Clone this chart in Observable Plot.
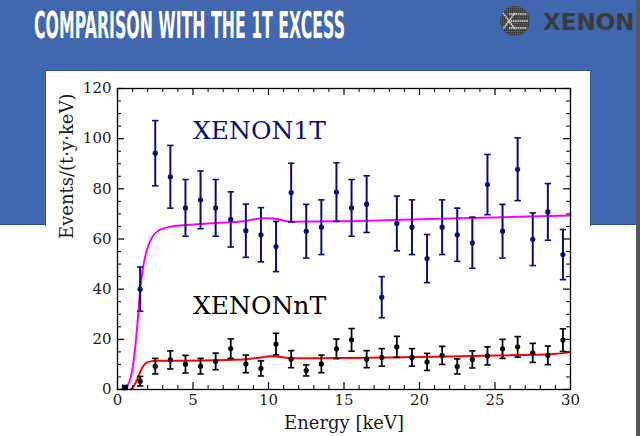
<!DOCTYPE html>
<html>
<head>
<meta charset="utf-8">
<script src="https://cdn.jsdelivr.net/npm/d3@7"></script>
<script src="https://cdn.jsdelivr.net/npm/@observablehq/plot@0.6"></script>
<style>
  html, body { margin: 0; padding: 0; }
  body { width: 640px; height: 436px; position: relative; overflow: hidden; background: #fff; }
  #band { position: absolute; left: 0; top: 0; width: 636px; height: 224px; background: #4167ae; border-bottom: 1px solid #2d5097; }
  #strip { position: absolute; left: 636px; top: 0; width: 4px; height: 436px; background: #575757; }
  #panel { position: absolute; left: 45px; top: 70px; width: 544px; height: 155px; background: #fff; border: 1px solid #2d5097; border-bottom: none; }
  #head { position: absolute; left: 0; top: 0; }
  #chart { position: absolute; left: 46px; top: 71px; }
</style>
</head>
<body>
<div id="band"></div>
<div id="strip"></div>
<div id="panel"></div>
<svg id="head" width="636" height="60" xmlns="http://www.w3.org/2000/svg">
  <text id="title" x="0" y="0" transform="translate(34,38) scale(0.42,1)" font-family="'DejaVu Sans',sans-serif" font-weight="bold" font-size="37" fill="#fff">COMPARISON WITH THE 1T EXCESS</text>
  <defs>
    <pattern id="grid" width="2" height="2" patternUnits="userSpaceOnUse">
      <rect width="2" height="2" fill="#4167ae"/>
      <rect width="1.4" height="1.4" fill="#2e2e2e"/>
    </pattern>
  </defs>
  <circle cx="515" cy="21" r="15" fill="url(#grid)"/>
  <g stroke="#e8e8e8" stroke-width="1.6" stroke-dasharray="1.4 0.8" fill="none">
    <path d="M503 13 L515 29 M515 13 L503 29"/>
    <path d="M509 14 L527 14 M511 21 L528 21 M509 28 L527 28"/>
  </g>
  <text x="543" y="30" font-family="'DejaVu Sans',sans-serif" font-weight="bold" font-size="23" fill="#3b3b3b">XENON</text>
</svg>
<div id="chart"></div>
<script>
// fit the condensed title to its width in the reference (34 → 345 px)
(function () {
  const t = document.getElementById("title");
  const w = t.getComputedTextLength();
  if (w > 0) t.setAttribute("transform", `translate(34,38) scale(${311 / w},1)`);
})();

// ---- data ----
const energy = [0.5,1.5,2.5,3.5,4.5,5.5,6.5,7.5,8.5,9.5,10.5,11.5,12.5,13.5,14.5,15.5,16.5,17.5,18.5,19.5,20.5,21.5,22.5,23.5,24.5,25.5,26.5,27.5,28.5,29.5];
const rate1T = [0.8,40.0,94.2,84.8,72.4,75.6,72.4,67.8,63.3,61.7,57.0,78.5,63.1,64.7,78.7,72.4,73.9,36.8,66.2,64.7,52.2,64.7,61.7,58.5,81.7,63.1,87.8,59.9,70.8,53.8];
const err1T  = [0.8,8.8,13.0,12.5,11.3,11.5,11.3,11.0,10.6,10.8,10.0,11.7,10.7,10.9,11.7,11.3,11.3,8.2,10.9,10.9,9.6,10.9,10.6,10.2,12.0,10.7,12.5,10.5,11.3,10.0];
const rateNT = [0.8,3.3,9.3,11.8,10.1,9.3,11.2,16.3,10.2,8.4,18.1,12.1,7.6,10.2,16.2,19.8,12.1,12.8,17.0,12.8,11.0,13.6,9.2,12.0,13.4,16.2,17.0,14.6,13.6,19.7];
const errNT  = [0.6,1.9,3.1,3.6,3.5,3.1,3.3,3.9,3.5,3.0,4.3,3.4,2.2,3.5,3.9,4.5,3.4,3.5,4.2,3.5,3.4,3.6,3.0,3.4,3.6,3.8,4.1,3.8,3.7,4.5];

const model1TE = [0.3,0.55,0.88,1.1,1.32,1.5,1.66,1.88,2.05,2.2,2.4,2.6,2.8,3.07,3.5,4,5.05,6.5,8.37,9.7,10.3,11.46,13,15.4,20,25,30];
const model1TV = [0.2,0.9,4.9,12.9,26.2,39.5,47.4,54.1,57.5,59.6,61.6,62.8,63.6,64.3,64.9,65.3,65.8,66.4,67.1,68.3,68.2,66.9,67.0,67.1,67.9,68.6,69.4];
const modelNTE = [0.88,1.05,1.32,1.66,1.99,2.54,4.3,7.26,8.5,9.5,10.1,10.8,11.5,13,15.4,20,23.6,28.9,30];
const modelNTV = [0,1.0,4.3,8.9,10.9,11.5,11.5,11.8,12.1,12.8,13.3,13.0,12.5,12.5,12.6,13.0,13.4,14.2,14.9];

const xMajor = [0,5,10,15,20,25,30];
const xMinor = d3.range(0,31).filter(d => d % 5 !== 0);
const yMajor = [0,20,40,60,80,100,120];
const yMinor = d3.range(0,121,5).filter(d => d % 20 !== 0);

const xLabel = "Energy [keV]";
const yLabel = "Events/(t·y·keV)";
const label1T = "XENON1T";
const labelNT = "XENONnT";

// ---- build ----
const c1T = "#0c0c78", cNT = "#000000";
const pts1T = energy.map((e,i) => ({e, v: rate1T[i], lo: rate1T[i]-err1T[i], hi: rate1T[i]+err1T[i]}));
const ptsNT = energy.map((e,i) => ({e, v: rateNT[i], lo: rateNT[i]-errNT[i], hi: rateNT[i]+errNT[i]}));
const m1T = model1TE.map((e,i) => ({e, v: model1TV[i]}));
const mNT = modelNTE.map((e,i) => ({e, v: modelNTV[i]}));

const W = 544, H = 365, mL = 71, mR = 20, mT = 17, mB = 47;
const fH = H - mT - mB, fW = W - mL - mR;
const cap = { draw(ctx, size) { const r = Math.sqrt(size / Math.PI); ctx.moveTo(-r, 0); ctx.lineTo(r, 0); } };

function errMarks(pts, color, sw) {
  return [
    Plot.ruleX(pts, {x: "e", y1: "lo", y2: "hi", stroke: color, strokeWidth: sw}),
    Plot.dot(pts, {x: "e", y: "lo", symbol: cap, r: 3.2, fill: "none", stroke: color, strokeWidth: 1.6}),
    Plot.dot(pts, {x: "e", y: "hi", symbol: cap, r: 3.2, fill: "none", stroke: color, strokeWidth: 1.6}),
    Plot.dot(pts, {x: "e", y: "v", r: 2.6, fill: color, stroke: "none"})
  ];
}

const chart = Plot.plot({
  width: W, height: H,
  marginLeft: mL, marginRight: mR, marginTop: mT, marginBottom: mB,
  style: {fontFamily: "'DejaVu Serif', serif", fontSize: "15px", background: "transparent", color: "#1a1a1a"},
  x: {domain: [0, 30], ticks: xMajor, tickSize: 0, tickPadding: 5, label: null},
  y: {domain: [0, 120], ticks: yMajor, tickSize: 0, tickPadding: 6, label: null},
  marks: [
    Plot.line(m1T, {x: "e", y: "v", stroke: "#ff00ff", strokeWidth: 2, curve: "monotone-x"}),
    Plot.line(mNT, {x: "e", y: "v", stroke: "#ff0000", strokeWidth: 2, curve: "monotone-x"}),
    ...errMarks(pts1T, c1T, 2),
    ...errMarks(ptsNT, cNT, 1.8),
    // inward ticks on all four sides
    Plot.tickX(xMajor, {x: d => d, insetTop: fH - 7, stroke: "black", strokeWidth: 1.2}),
    Plot.tickX(xMajor, {x: d => d, insetBottom: fH - 7, stroke: "black", strokeWidth: 1.2}),
    Plot.tickX(xMinor, {x: d => d, insetTop: fH - 4, stroke: "black", strokeWidth: 1}),
    Plot.tickX(xMinor, {x: d => d, insetBottom: fH - 4, stroke: "black", strokeWidth: 1}),
    Plot.tickY(yMajor, {y: d => d, insetRight: fW - 7, stroke: "black", strokeWidth: 1.2}),
    Plot.tickY(yMajor, {y: d => d, insetLeft: fW - 7, stroke: "black", strokeWidth: 1.2}),
    Plot.tickY(yMinor, {y: d => d, insetRight: fW - 4, stroke: "black", strokeWidth: 1}),
    Plot.tickY(yMinor, {y: d => d, insetLeft: fW - 4, stroke: "black", strokeWidth: 1}),
    Plot.frame({stroke: "black", strokeWidth: 1.3}),
    Plot.text([label1T], {x: () => 5, y: () => 100, text: d => d, textAnchor: "start", lineAnchor: "bottom", fontSize: 25, fill: c1T}),
    Plot.text([labelNT], {x: () => 5, y: () => 30, text: d => d, textAnchor: "start", lineAnchor: "bottom", fontSize: 25, fill: cNT}),
    Plot.text([xLabel], {frameAnchor: "bottom", text: d => d, lineAnchor: "bottom", dy: 39, fontSize: 18, fill: "#1a1a1a"}),
    Plot.text([yLabel], {frameAnchor: "left", text: d => d, rotate: -90, lineAnchor: "bottom", dx: -45, fontSize: 18, fill: "#1a1a1a"})
  ]
});
document.getElementById("chart").appendChild(chart);
</script>
</body>
</html>
